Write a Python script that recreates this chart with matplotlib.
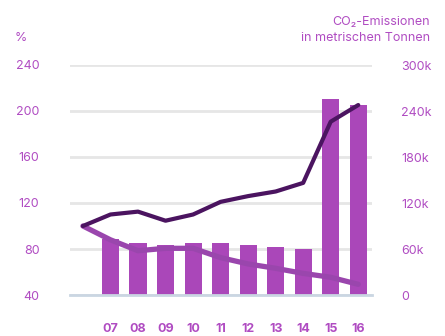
import numpy as np
import matplotlib
matplotlib.use("Agg")
import matplotlib.pyplot as plt

plt.rcParams['font.family'] = ['Inter', 'DejaVu Sans']

# data
years = ['06', '07', '08', '09', '10', '11', '12', '13', '14', '15', '16']
bar_years = years[1:]
emissions_k = [72.7, 67.5, 65.2, 67.5, 67.5, 64.8, 62.2, 59.6, 255.2, 247.8]
index_dark = [100, 110, 112.5, 104.6, 110, 121, 126, 130, 137.5, 190.7, 205.2]
index_light = [100, 88, 78.5, 80.6, 80.6, 72.5, 67, 63.2, 58.8, 55.4, 49.3]
left_ticks = [40, 80, 120, 160, 200, 240]
right_ticks = [0, 60, 120, 180, 240, 300]
right_labels = ['0', '60k', '120k', '180k', '240k', '300k']

label_col = '#b04cc2'
bar_col = '#aa47b9'
dark_col = '#4b1460'
light_col = '#9a46ad'

fig = plt.figure(figsize=(4.45, 3.36), dpi=100)
ax = fig.add_axes([70/445, 1-295/336, 302/445, 230/336])

x = np.arange(len(years))
xb = x[1:]

# bars on the right scale
ax.bar(xb, emissions_k, width=0.62, color=bar_col, zorder=2)
ax.set_ylim(0, 300)
ax.set_xlim(-0.47, 10.5)
ax.set_xticks(xb)
ax.set_xticklabels(bar_years, fontweight='bold')
ax.tick_params(axis='x', length=0, pad=20, labelcolor=label_col, labelsize=9)
ax.grid(axis='y', color='#e6e6e6', linewidth=2)
ax.set_axisbelow(True)
for s in ['top', 'left', 'right']:
    ax.spines[s].set_visible(False)
ax.spines['bottom'].set_color('#cad6e2')
ax.spines['bottom'].set_linewidth(2)

# lines on the left scale
ax2 = ax.twinx()
ax2.plot(x, index_light, color=light_col, lw=3.8, solid_capstyle='round', solid_joinstyle='round')
ax2.plot(x, index_dark, color=dark_col, lw=3.0, solid_capstyle='round', solid_joinstyle='round')
ax2.set_ylim(40, 240)
ax2.set_yticks(left_ticks)
for s in ax2.spines.values():
    s.set_visible(False)

# twinx resets tick sides, so set them afterwards
ax.set_yticks(right_ticks)
ax.set_yticklabels(right_labels)
ax.yaxis.tick_right()
ax.tick_params(axis='y', length=0, pad=21, labelcolor=label_col, labelsize=9)
ax2.yaxis.tick_left()
ax2.tick_params(axis='y', length=0, pad=22, labelcolor=label_col, labelsize=9)

fig.text(15/445, 1-38/336, '%', color=label_col, fontsize=9, va='center')
fig.text(430/445, 1-22/336, 'CO₂-Emissionen', color=label_col, fontsize=9, ha='right', va='center')
fig.text(430/445, 1-38/336, 'in metrischen Tonnen', color=label_col, fontsize=9, ha='right', va='center')

fig.savefig('out.png', dpi=100)
